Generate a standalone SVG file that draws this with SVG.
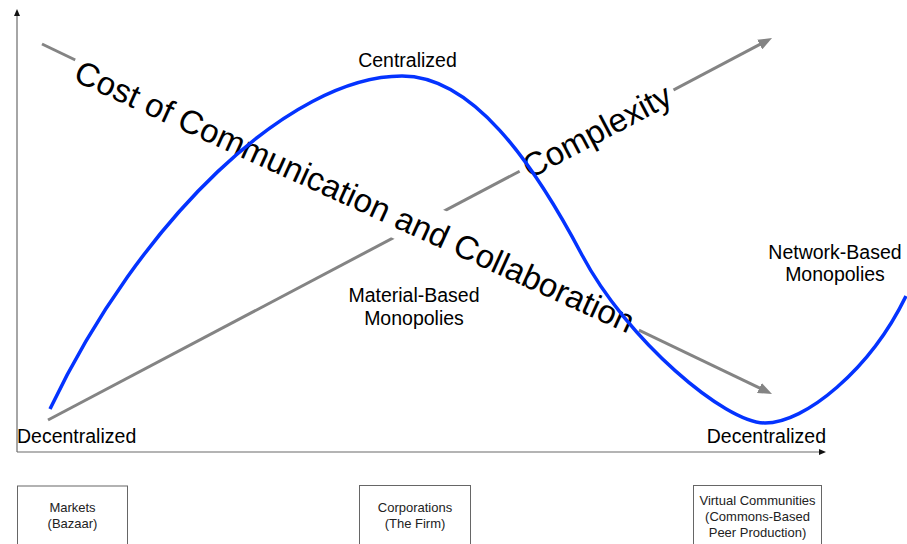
<svg xmlns="http://www.w3.org/2000/svg" width="907" height="544" viewBox="0 0 907 544">
<style>
text{font-family:"Liberation Sans",Arial,sans-serif;fill:#000}
.big{font-size:33px}
.lbl{font-size:19.5px;text-anchor:middle}
.box{fill:#fff;stroke:#666;stroke-width:1}
.bt{font-size:13px;text-anchor:middle;fill:#222}
.arr{stroke:#848484;stroke-width:3;fill:none;marker-end:url(#gh)}
.axis{stroke:#6b6b6b;stroke-width:1.2;fill:none}
.mask{fill:#fff}
</style>
<defs>
<marker id="gh" markerUnits="userSpaceOnUse" markerWidth="14" markerHeight="11" refX="4" refY="5.5" orient="auto">
<path d="M0,0 L14,5.5 L0,11 z" fill="#848484"/>
</marker>
</defs>
<rect width="907" height="544" fill="#fff"/>
<g id="axes">
<line class="axis" x1="17" y1="452" x2="17" y2="15"/>
<polygon points="17,9 14,16 20,16" fill="#111"/>
<line class="axis" x1="17" y1="452" x2="820" y2="452"/>
<polygon points="826,452 819,449 819,455" fill="#111"/>
</g>
<g id="connectors">
<line class="arr" x1="48" y1="420" x2="763.2" y2="42.7"/>
<line class="arr" x1="42" y1="44" x2="763" y2="389.7"/>
</g>
<g id="cost-label" transform="translate(350,207) rotate(24.5)">
<rect class="mask" x="-311" y="-36" width="625" height="46.5"/>
<text class="big" x="0" y="0" text-anchor="middle">Cost of Communication and Collaboration</text>
</g>
<g id="complexity-label" transform="translate(596.5,130.5) rotate(-27.8)">
<rect class="mask" x="-87" y="-24" width="174" height="44"/>
<text class="big" x="0" y="12" text-anchor="middle">Complexity</text>
</g>
<g id="curve">
<path d="M50,409 C140,220 290,76 402,76 C472,76 532,160.5 582,255 C627,340 725,423 765,423 C805,423 870,370 906,296" fill="none" stroke="#0433ff" stroke-width="3.5"/>
</g>
<g id="centralized"><text class="lbl" x="407.5" y="67">Centralized</text></g>
<g id="decentralized-left"><text class="lbl" x="17" y="443" style="text-anchor:start">Decentralized</text></g>
<g id="decentralized-right"><text class="lbl" x="826" y="443" style="text-anchor:end">Decentralized</text></g>
<g id="material-monopolies"><text class="lbl" x="414" y="302">Material-Based</text><text class="lbl" x="414" y="325">Monopolies</text></g>
<g id="network-monopolies"><text class="lbl" x="835" y="259">Network-Based</text><text class="lbl" x="835" y="281">Monopolies</text></g>
<g id="markets">
<rect class="box" x="17.5" y="486" width="110" height="70"/>
<text class="bt" x="72.5" y="512">Markets</text><text class="bt" x="72.5" y="528">(Bazaar)</text>
</g>
<g id="corporations">
<rect class="box" x="359.5" y="485.5" width="111" height="70"/>
<text class="bt" x="415" y="512">Corporations</text><text class="bt" x="415" y="528">(The Firm)</text>
</g>
<g id="virtual-communities">
<rect class="box" x="693.5" y="485.5" width="128" height="70"/>
<text class="bt" x="757.5" y="505">Virtual Communities</text><text class="bt" x="757.5" y="521">(Commons-Based</text><text class="bt" x="757.5" y="536.5">Peer Production)</text>
</g>
</svg>
